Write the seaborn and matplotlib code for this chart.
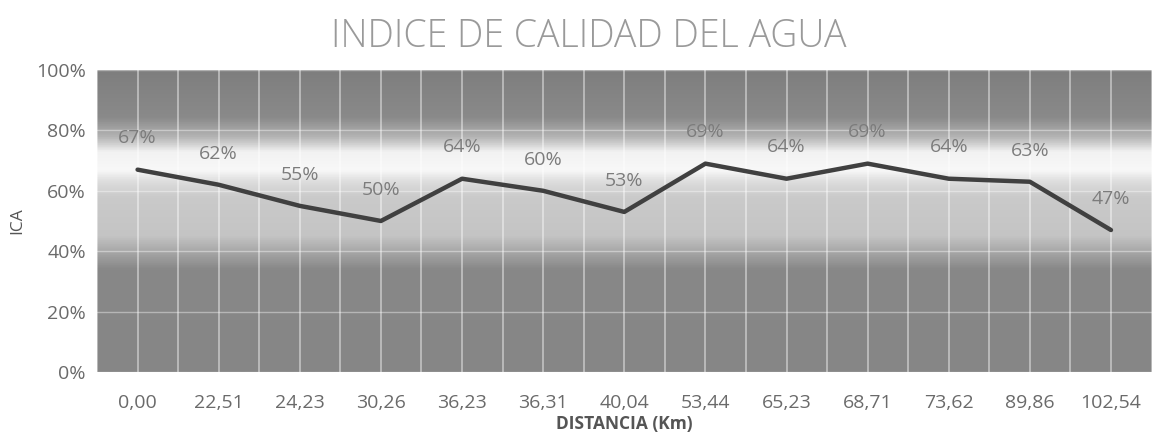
import seaborn as sns
import pandas as pd
import numpy as np
import matplotlib.pyplot as plt
from matplotlib.colors import LinearSegmentedColormap
from matplotlib.ticker import PercentFormatter

# Datos
distancias = ["0,00", "22,51", "24,23", "30,26", "36,23", "36,31", "40,04",
              "53,44", "65,23", "68,71", "73,62", "89,86", "102,54"]
ica = [0.67, 0.62, 0.55, 0.50, 0.64, 0.60, 0.53, 0.69, 0.64, 0.69, 0.64, 0.63, 0.47]

df = pd.DataFrame({"distancia": distancias, "ica": ica})

sns.set_style("white")
plt.rcParams['font.family'] = ['Open Sans', 'DejaVu Sans']

fig = plt.figure(figsize=(11.55, 4.38), dpi=100)
ax = fig.add_axes([0.084, 0.151, 0.913, 0.689])

# Fondo degradado (escaneo en grises)
fondo = LinearSegmentedColormap.from_list("fondo", [
    (0.00, "#868686"), (0.34, "#888888"), (0.40, "#a8a8a8"), (0.45, "#c4c4c4"),
    (0.58, "#cacaca"), (0.63, "#dcdcdc"), (0.67, "#f8f8f8"), (0.73, "#f2f2f2"),
    (0.78, "#b4b4b4"), (0.845, "#8a8a8a"), (1.00, "#7e7e7e")])
grad = np.linspace(0, 1, 400).reshape(-1, 1)
ax.imshow(grad, aspect="auto", cmap=fondo, origin="lower",
          extent=[-0.5, 12.5, 0, 1], zorder=0)

sns.lineplot(data=df, x="distancia", y="ica", sort=False, color="#404040",
             linewidth=3.2, ax=ax, zorder=3)

for i, v in enumerate(ica):
    ax.annotate(f"{round(v * 100):.0f}%", (i, v), xytext=(0, 16),
                textcoords="offset points", ha="center", va="bottom",
                fontsize=14, color="#7c7c7c", zorder=4)

ax.set_xlim(-0.5, 12.5)
ax.set_ylim(0, 1)
ax.set_yticks(np.arange(0, 1.01, 0.2))
ax.yaxis.set_major_formatter(PercentFormatter(1.0, decimals=0))
for xv in np.arange(-0.5, 12.6, 0.5):
    ax.axvline(xv, color="white", alpha=0.5, linewidth=1.2, zorder=1)
ax.grid(True, which="major", axis="y", color="white", alpha=0.4, linewidth=1)
ax.set_axisbelow(False)
for s in ax.spines.values():
    s.set_visible(False)

ax.tick_params(axis="both", length=0, labelsize=14, labelcolor="#6a6a6a")
ax.tick_params(axis="x", pad=16)
ax.tick_params(axis="y", pad=8)

ax.set_xlabel("DISTANCIA (Km)", fontsize=12.5, fontweight="bold", color="#555555", labelpad=2)
ax.set_ylabel("ICA", fontsize=12.5, color="#555555", labelpad=8)
fig.suptitle("INDICE DE CALIDAD DEL AGUA", x=0.51, y=0.96, fontsize=27,
             fontweight="light", color="#9a9a9a")

plt.savefig("out.png", dpi=100)
